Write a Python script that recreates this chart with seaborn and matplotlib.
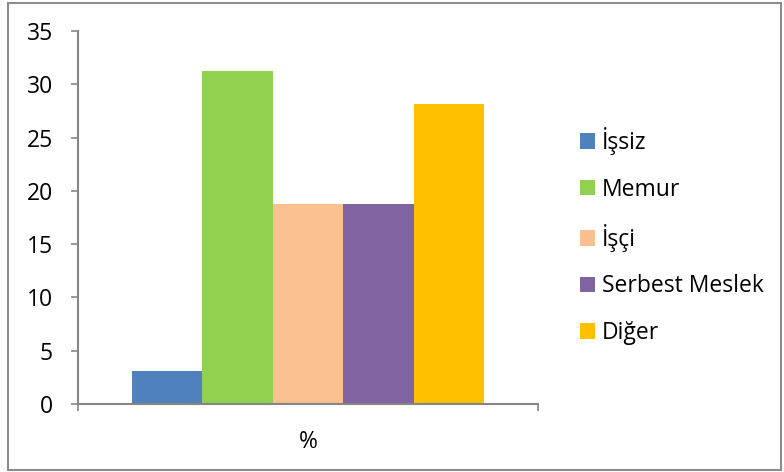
import pandas as pd
import numpy as np
import seaborn as sns
import matplotlib.pyplot as plt
from matplotlib.patches import Rectangle

# data
categories = ["İşsiz", "Memur", "İşçi", "Serbest Meslek", "Diğer"]
values = [3.125, 31.25, 18.75, 18.75, 28.125]
group_label = ["%"] * len(categories)
colors = ["#4F81BD", "#92D050", "#FAC090", "#8064A2", "#FFC000"]

df = pd.DataFrame({"grp": group_label, "meslek": categories, "oran": values})

sns.set_style("white")
plt.rcParams['font.family'] = ['Open Sans', 'DejaVu Sans']
plt.rcParams['text.color'] = 'black'
plt.rcParams['xtick.color'] = 'black'
plt.rcParams['ytick.color'] = 'black'

fig = plt.figure(figsize=(7.84, 4.72), dpi=100)
ax = fig.add_axes([78 / 784, 1 - 404 / 472, 460 / 784, 373 / 472])

sns.barplot(data=df, x="grp", y="oran", hue="meslek", hue_order=categories,
            palette=colors, width=0.767, gap=0, saturation=1, linewidth=0, ax=ax)

ax.set_ylim(0, 35)
ax.set_xlim(-0.5, 0.5)
ax.set_yticks(np.arange(0, 36, 5))
ax.set_xlabel("")
ax.set_ylabel("")

gray = "#868686"
fs = 16.5
sns.despine(ax=ax)
for s in ["left", "bottom"]:
    ax.spines[s].set_color(gray)
    ax.spines[s].set_linewidth(1.5)

ax.tick_params(axis="y", left=True, length=5, width=1.2, color=gray, pad=13, labelsize=fs,
               labelcolor="black")
ax.tick_params(axis="x", which="major", bottom=False, pad=15, labelsize=fs, labelcolor="black")
ax.set_xticks([-0.5, 0.5], minor=True)
ax.tick_params(axis="x", which="minor", bottom=True, length=5, width=1.2, color=gray)

ax.legend(loc="center left", bbox_to_anchor=((580 - 78) / 460, (404 - 236) / 373),
          frameon=False, fontsize=fs, borderpad=0, borderaxespad=0,
          handlelength=0.65, handleheight=0.65, handletextpad=0.3, labelspacing=0.98)

fig.patches.append(Rectangle((8 / 784, 2 / 472), 773 / 784, 467 / 472, transform=fig.transFigure,
                             fill=False, edgecolor="#8c8c8c", linewidth=1.5))

fig.savefig("out.png", dpi=100)
